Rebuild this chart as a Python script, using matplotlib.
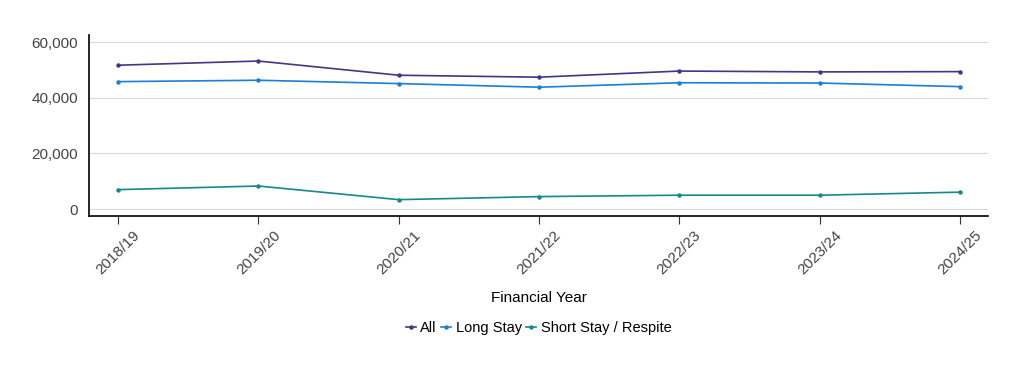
import matplotlib
matplotlib.use("Agg")
from matplotlib import pyplot as plt
from matplotlib.ticker import FuncFormatter

# data
years = ['2018/19', '2019/20', '2020/21', '2021/22', '2022/23', '2023/24', '2024/25']
all_stays = [51700, 53200, 48100, 47400, 49600, 49300, 49400]
long_stay = [45800, 46300, 45100, 43800, 45400, 45300, 44000]
short_stay = [7000, 8300, 3400, 4500, 5000, 5000, 6100]

plt.rcParams['font.family'] = ['Liberation Sans', 'DejaVu Sans']

fig = plt.figure(figsize=(10.24, 3.7), dpi=100)
ax = fig.add_axes([0.087, 0.416, 0.878, 0.489])

x = range(len(years))
ax.plot(x, all_stays, color='#45348a', lw=1.2, marker='o', ms=2.2, label='All')
ax.plot(x, long_stay, color='#1a7fd6', lw=1.2, marker='o', ms=2.2, label='Long Stay')
ax.plot(x, short_stay, color='#17898a', lw=1.2, marker='o', ms=2.2, label='Short Stay / Respite')

ax.set_xlim(-0.207, 6.2)
ax.set_ylim(-2500, 62500)
ax.set_yticks([0, 20000, 40000, 60000])
ax.yaxis.set_major_formatter(FuncFormatter(lambda v, p: f"{int(v):,}"))
ax.set_xticks(list(x))
ax.set_xticklabels(years, rotation=45, ha='center')

ax.grid(axis='y', color='#d9d9d9', lw=0.8)
ax.set_axisbelow(True)
for s in ['top', 'right']:
    ax.spines[s].set_visible(False)
ax.spines['left'].set_linewidth(1.2)
ax.spines['bottom'].set_linewidth(1.2)
ax.tick_params(axis='y', length=0, labelsize=11, labelcolor='#444444', pad=8)
ax.tick_params(axis='x', length=6, labelsize=11, labelcolor='#444444', color='#333333', pad=3)

ax.set_xlabel('Financial Year', fontsize=11, labelpad=10)

ax.legend(loc='upper center', bbox_to_anchor=(0.5, -0.51), ncol=3, frameon=False,
          fontsize=10.5, handlelength=0.7, handletextpad=0.3, columnspacing=0.3,
          markerscale=1.0)

plt.savefig('out.png')
